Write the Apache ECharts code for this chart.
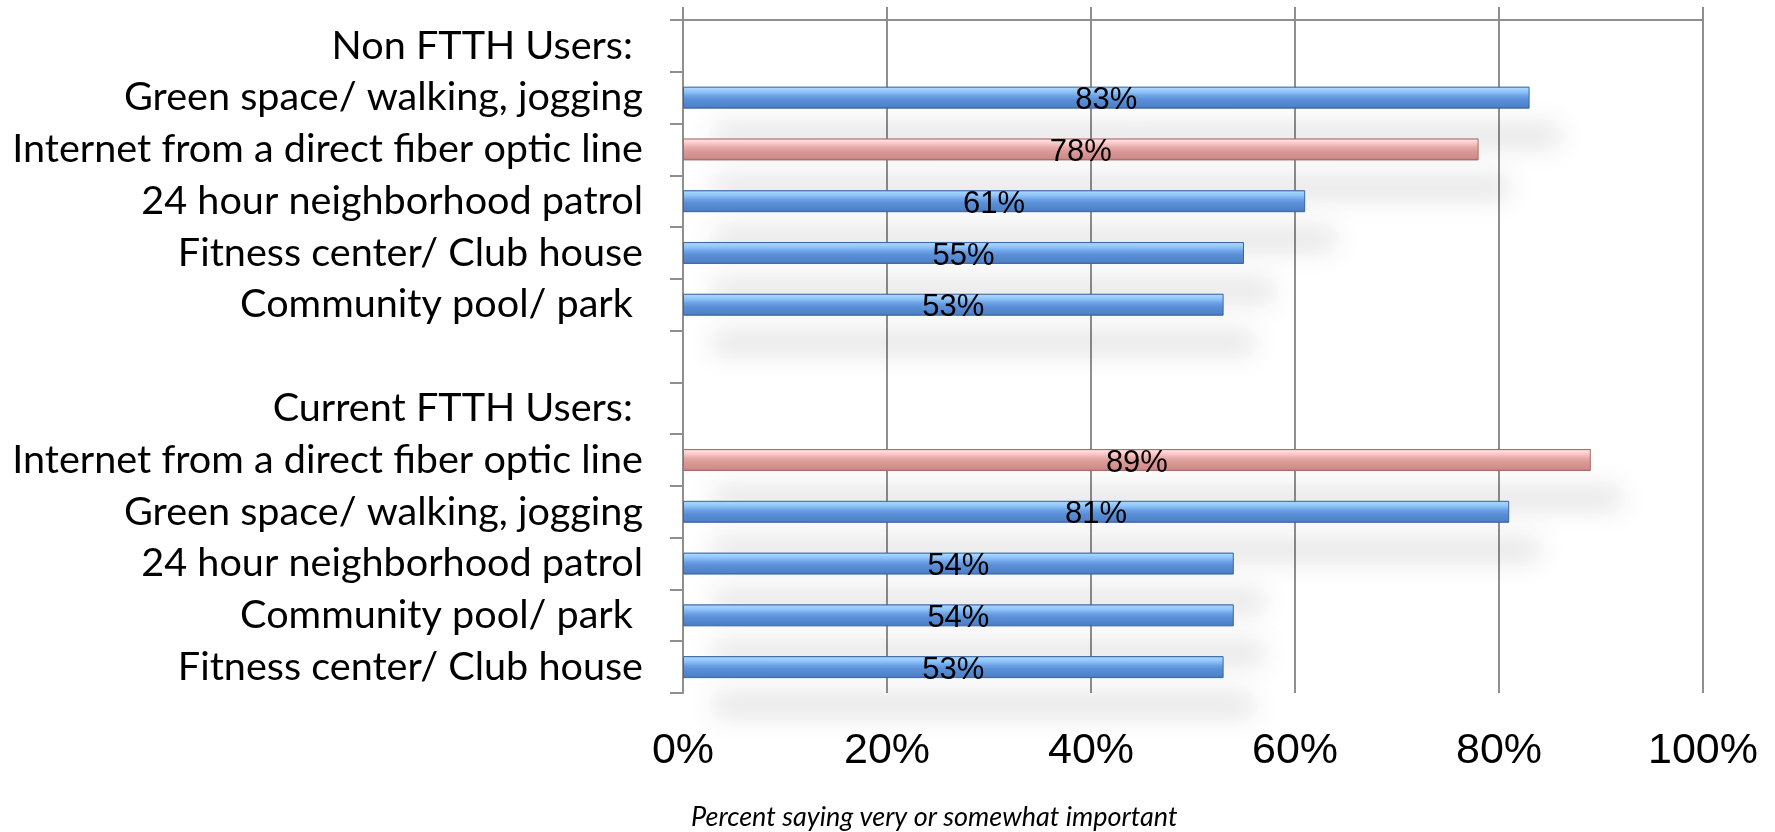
<!DOCTYPE html>
<html>
<head>
<meta charset="utf-8">
<script src="https://cdn.jsdelivr.net/npm/echarts@6/dist/echarts.min.js"></script>
<style>
html,body{margin:0;padding:0;background:#fff;}
#chart{width:1775px;height:832px;}
</style>
</head>
<body>
<div id="chart"></div>
<script>
const categories = [
  'Non FTTH Users: ',
  'Green space/ walking, jogging',
  'Internet from a direct fiber optic line',
  '24 hour neighborhood patrol',
  'Fitness center/ Club house',
  'Community pool/ park ',
  '',
  'Current FTTH Users: ',
  'Internet from a direct fiber optic line',
  'Green space/ walking, jogging',
  '24 hour neighborhood patrol',
  'Community pool/ park ',
  'Fitness center/ Club house'
];
const values = [null, 83, 78, 61, 55, 53, null, null, 89, 81, 54, 54, 53];
const highlighted = [false, false, true, false, false, false, false, false, true, false, false, false, false];
const xTicks = [0, 20, 40, 60, 80, 100];
const axisTitle = 'Percent saying very or somewhat important';

const blueFill = {
  type: 'linear', x: 0, y: 0, x2: 0, y2: 1,
  colorStops: [
    {offset: 0, color: '#5f95dc'},
    {offset: 0.08, color: '#a6d5ff'},
    {offset: 0.25, color: '#8cc1f8'},
    {offset: 0.42, color: '#6ca2e6'},
    {offset: 0.6, color: '#5a8ed6'},
    {offset: 0.9, color: '#4f82c8'},
    {offset: 1, color: '#3d6aa6'}
  ]
};
const pinkFill = {
  type: 'linear', x: 0, y: 0, x2: 0, y2: 1,
  colorStops: [
    {offset: 0, color: '#dc9a98'},
    {offset: 0.08, color: '#ffe0e0'},
    {offset: 0.25, color: '#f6c4c3'},
    {offset: 0.42, color: '#e6a9a8'},
    {offset: 0.6, color: '#da9896'},
    {offset: 0.9, color: '#d08c8a'},
    {offset: 1, color: '#a66b69'}
  ]
};

const seriesData = values.map((v, i) => ({
  value: v === null ? '-' : v,
  itemStyle: highlighted[i]
    ? {color: pinkFill, borderColor: '#a86b69'}
    : {color: blueFill, borderColor: '#3c679f'}
}));

const gray = '#8f8f8f';
const chart = echarts.init(document.getElementById('chart'));
chart.setOption({
  animation: false,
  backgroundColor: '#fff',
  title: {
    text: axisTitle,
    left: 686,
    top: 799,
    textStyle: {fontFamily: 'Lato', fontStyle: 'italic', fontWeight: 'normal', fontSize: 27, color: '#000'}
  },
  grid: {left: 683, right: 72, top: 20, bottom: 139, containLabel: false},
  xAxis: [
    {
      type: 'value', position: 'top', min: 0, max: 100, interval: 20,
      axisLine: {show: true, lineStyle: {color: gray, width: 2}},
      axisTick: {show: true, inside: false, length: 13, lineStyle: {color: gray, width: 2}},
      axisLabel: {show: false},
      splitLine: {show: true, lineStyle: {color: gray, width: 2}}
    },
    {
      type: 'value', position: 'bottom', min: 0, max: 100, interval: 20,
      axisLine: {show: false},
      axisTick: {show: false},
      splitLine: {show: false},
      axisLabel: {
        show: true, margin: 37,
        formatter: v => (xTicks.indexOf(v) >= 0 ? v + '%' : ''),
        fontFamily: 'Liberation Sans', fontSize: 43, lineHeight: 43, color: '#000'
      }
    }
  ],
  yAxis: {
    type: 'category', inverse: true, data: categories,
    axisLine: {show: true, lineStyle: {color: gray, width: 2}},
    axisTick: {show: true, inside: false, length: 13, interval: 0, lineStyle: {color: gray, width: 2}},
    axisLabel: {interval: 0, margin: 40, fontFamily: 'Lato', fontSize: 39.6, color: '#000'},
    splitLine: {show: false}
  },
  series: [{
    type: 'bar', xAxisIndex: 0, barWidth: 22,
    data: seriesData,
    itemStyle: {
      borderWidth: 1,
      shadowColor: 'rgba(0,0,0,0.11)', shadowBlur: 26, shadowOffsetX: 30, shadowOffsetY: 38
    },
    label: {
      show: true, position: 'inside', offset: [0, 3],
      formatter: p => p.value + '%',
      fontFamily: 'Liberation Sans', fontSize: 31, color: '#000'
    }
  }]
});
</script>
</body>
</html>
